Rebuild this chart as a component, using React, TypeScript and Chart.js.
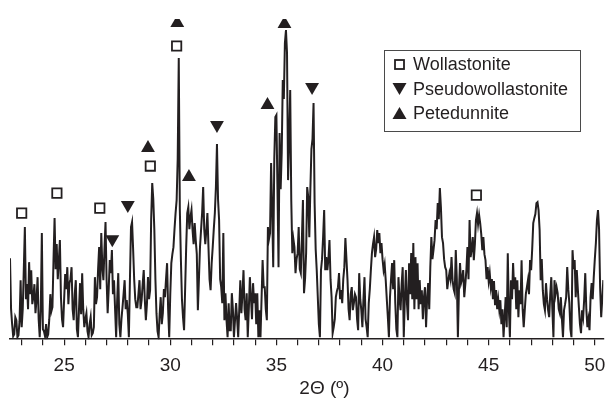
import React, { useEffect, useRef } from 'react';
import { Chart, registerables } from 'chart.js';

Chart.register(...registerables);

// XRD scan: 2Θ from 22.45° in 0.05° steps (one row = 1°)
const angleStart = 22.45;
const angleStep = 0.05;
const intensity = [
  81, 30, 15, 3, 5, 22, 19, 2, 4, 18, 59, 12, 30, 70, 112, 40, 55, 30, 77, 45,
  69, 35, 42, 55, 26, 40, 62, 20, 2, 30, 106, 10, 8, 3, 15, 2, 5, 20, 45, 28,
  32, 80, 121, 70, 95, 60, 78, 99, 42, 20, 12, 40, 65, 50, 72, 35, 56, 60, 72, 30,
  19, 45, 59, 10, 2, 30, 56, 25, 66, 30, 12, 20, 26, 8, 2, 15, 22, 4, 6, 12,
  62, 35, 42, 70, 92, 50, 106, 72, 59, 90, 117, 60, 26, 50, 79, 66, 89, 45, 59, 30,
  2, 40, 66, 15, 2, 20, 32, 45, 59, 30, 39, 25, 2, 60, 112, 117, 90, 60, 40, 32,
  32, 45, 59, 30, 39, 55, 69, 40, 19, 35, 62, 40, 49, 120, 156, 140, 109, 60, 26, 8,
  2, 25, 42, 15, 26, 50, 42, 60, 76, 30, 2, 45, 76, 85, 92, 110, 126, 139, 180, 281,
  130, 80, 40, 22, 9, 50, 92, 126, 132, 110, 122, 129, 109, 95, 116, 99, 85, 29, 60, 92,
  109, 126, 152, 110, 95, 109, 126, 92, 60, 49, 76, 92, 110, 126, 152, 195, 140, 119, 60, 52,
  36, 106, 19, 46, 19, 2, 36, 9, 9, 46, 30, 2, 19, 36, 20, 2, 30, 59, 26, 45,
  69, 30, 19, 46, 2, 30, 62, 42, 20, 56, 36, 46, 15, 46, 2, 29, 2, 40, 79, 52,
  52, 30, 19, 112, 100, 106, 176, 130, 72, 180, 222, 224, 150, 72, 206, 150, 186, 259, 240, 296,
  309, 286, 159, 200, 249, 139, 86, 100, 92, 66, 80, 86, 112, 70, 66, 100, 139, 46, 60, 86,
  152, 142, 102, 150, 190, 200, 236, 136, 90, 69, 42, 15, 2, 69, 80, 102, 129, 69, 82, 69,
  80, 99, 60, 42, 6, 12, 20, 42, 48, 52, 66, 40, 49, 36, 60, 72, 101, 80, 59, 30,
  19, 45, 52, 29, 36, 45, 42, 20, 9, 66, 40, 29, 12, 40, 62, 20, 12, 2, 36, 50,
  69, 86, 95, 102, 82, 90, 109, 96, 106, 86, 96, 80, 69, 75, 59, 40, 22, 2, 42, 60,
  76, 50, 79, 36, 10, 2, 62, 40, 29, 55, 72, 2, 40, 69, 36, 19, 76, 45, 86, 40,
  96, 30, 82, 40, 76, 30, 59, 35, 49, 20, 42, 52, 12, 40, 56, 30, 72, 102, 80, 89,
  99, 119, 110, 136, 120, 151, 132, 102, 96, 80, 72, 69, 50, 59, 66, 60, 82, 59, 50, 46,
  89, 60, 2, 50, 76, 56, 60, 69, 42, 55, 69, 92, 60, 119, 82, 90, 102, 79, 95, 119,
  126, 115, 124, 116, 105, 89, 102, 85, 79, 60, 72, 58, 66, 52, 60, 40, 58, 34, 49, 30,
  40, 29, 39, 15, 30, 2, 22, 42, 12, 86, 30, 2, 59, 40, 76, 50, 62, 30, 59, 22,
  49, 35, 79, 30, 12, 29, 45, 52, 59, 45, 79, 69, 90, 116, 121, 125, 136, 137, 129, 109,
  59, 80, 49, 35, 29, 56, 40, 29, 22, 45, 62, 30, 2, 59, 45, 52, 46, 30, 26, 42,
  20, 2, 29, 35, 42, 72, 50, 36, 10, 2, 89, 70, 79, 42, 69, 50, 32, 15, 6, 29,
  22, 40, 66, 30, 12, 20, 9, 42, 56, 40, 62, 80, 96, 119, 129, 110, 52, 22, 40, 59,
];

// phase markers (2Θ position, marker height)
const wollastoniteX = [23.0, 24.66, 26.68, 29.06, 30.3, 44.42];
const wollastoniteY = [126, 146, 131, 173, 293, 144];
const pseudoX = [27.27, 28.0, 32.2, 36.68];
const pseudoY = [100, 134, 214, 252];
const petedunniteX = [28.95, 30.33, 30.88, 34.58, 35.38];
const petedunniteY = [191, 316, 162, 234, 315];

const tickValues = [23, 24, 25, 26, 27, 28, 29, 30, 31, 32, 33, 34, 35, 36, 37, 38, 39, 40, 41, 42, 43, 44, 45, 46, 47, 48, 49, 50];
const labeledTicks = [25, 30, 35, 40, 45, 50];

const legendLabels = ['Wollastonite', 'Pseudowollastonite', 'Petedunnite'];
const axisTitle = '2Θ (º)';

const INK = '#231f20';
const FONT = "'Liberation Sans', Arial, Helvetica, sans-serif";

const pairs = (xs: number[], ys: number[]) => xs.map((x, i) => ({ x, y: ys[i] }));

const overlayPlugin = {
  id: 'overlay',
  afterDraw(chart: any) {
    const { ctx, chartArea } = chart;
    ctx.save();
    // axis title
    ctx.fillStyle = INK;
    ctx.font = `19px ${FONT}`;
    ctx.textAlign = 'center';
    ctx.textBaseline = 'middle';
    const tx = chartArea.left + (chartArea.right - chartArea.left) * 0.53;
    ctx.fillText(axisTitle, tx, chartArea.bottom + 50);

    // legend box
    const bx = 384.5, by = 50.5, bw = 196, bh = 81;
    ctx.strokeStyle = '#4a4a4a';
    ctx.lineWidth = 1;
    ctx.strokeRect(bx, by, bw, bh);
    const mx = 399.5;
    const rows = [64.5, 89, 113];
    // square
    ctx.lineWidth = 1.8;
    ctx.strokeStyle = INK;
    ctx.strokeRect(mx - 4.5, rows[0] - 4.5, 9, 9);
    // down triangle
    ctx.fillStyle = INK;
    ctx.beginPath();
    ctx.moveTo(mx - 7, rows[1] - 6);
    ctx.lineTo(mx + 7, rows[1] - 6);
    ctx.lineTo(mx, rows[1] + 6);
    ctx.closePath();
    ctx.fill();
    // up triangle
    ctx.beginPath();
    ctx.moveTo(mx - 7, rows[2] + 6);
    ctx.lineTo(mx + 7, rows[2] + 6);
    ctx.lineTo(mx, rows[2] - 6);
    ctx.closePath();
    ctx.fill();
    ctx.textAlign = 'left';
    ctx.font = `18px ${FONT}`;
    legendLabels.forEach((t, i) => ctx.fillText(t, 413, rows[i] + 1));
    ctx.restore();
  },
};

export default function App() {
  const ref = useRef<HTMLCanvasElement>(null);
  useEffect(() => {
    if (!ref.current) return;
    const scan = intensity.map((v, i) => ({ x: +(angleStart + i * angleStep).toFixed(2), y: v }));
    const chart = new Chart(ref.current, {
      type: 'scatter',
      data: {
        datasets: [
          {
            label: legendLabels[0],
            data: pairs(wollastoniteX, wollastoniteY),
            pointStyle: 'rect',
            pointRadius: 6.6,
            pointBorderWidth: 1.8,
            pointBorderColor: INK,
            pointBackgroundColor: '#ffffff',
            showLine: false,
            order: 0,
          },
          {
            label: legendLabels[1],
            data: pairs(pseudoX, pseudoY),
            pointStyle: 'triangle',
            pointRotation: 180,
            pointRadius: 8,
            pointBorderWidth: 0,
            pointBackgroundColor: INK,
            pointBorderColor: INK,
            showLine: false,
            order: 0,
          },
          {
            label: legendLabels[2],
            data: pairs(petedunniteX, petedunniteY),
            pointStyle: 'triangle',
            pointRadius: 8,
            pointBorderWidth: 0,
            pointBackgroundColor: INK,
            pointBorderColor: INK,
            showLine: false,
            order: 0,
          },
          {
            label: 'scan',
            data: scan,
            showLine: true,
            borderColor: INK,
            borderWidth: 2,
            borderJoinStyle: 'miter',
            pointRadius: 0,
            tension: 0,
            order: 1,
          },
        ],
      },
      options: {
        responsive: false,
        animation: false,
        events: [],
        layout: { padding: { left: 10, right: 6, top: 19, bottom: 12 } },
        plugins: { legend: { display: false }, tooltip: { enabled: false }, title: { display: false } },
        scales: {
          x: {
            type: 'linear',
            min: 22.45,
            max: 50.4,
            afterBuildTicks: (scale: any) => {
              scale.ticks = tickValues.map((v) => ({ value: v }));
            },
            ticks: {
              autoSkip: false,
              maxRotation: 0,
              padding: 9.5,
              color: INK,
              font: { family: FONT, size: 19 },
              callback: (v: any) => (labeledTicks.includes(Number(v)) ? String(v) : ''),
            },
            grid: { drawOnChartArea: false, drawTicks: true, tickLength: 6, color: INK, lineWidth: 1.2 },
            border: { display: true, color: INK, width: 1.5 },
          },
          y: { display: false, min: 0, max: 320 },
        },
      },
      plugins: [overlayPlugin],
    } as any);
    return () => chart.destroy();
  }, []);
  return (
    <div style={{ position: 'absolute', left: 0, top: 0, width: 615, height: 399, background: '#fff' }}>
      <canvas ref={ref} width={615} height={399} style={{ display: 'block' }} />
    </div>
  );
}
